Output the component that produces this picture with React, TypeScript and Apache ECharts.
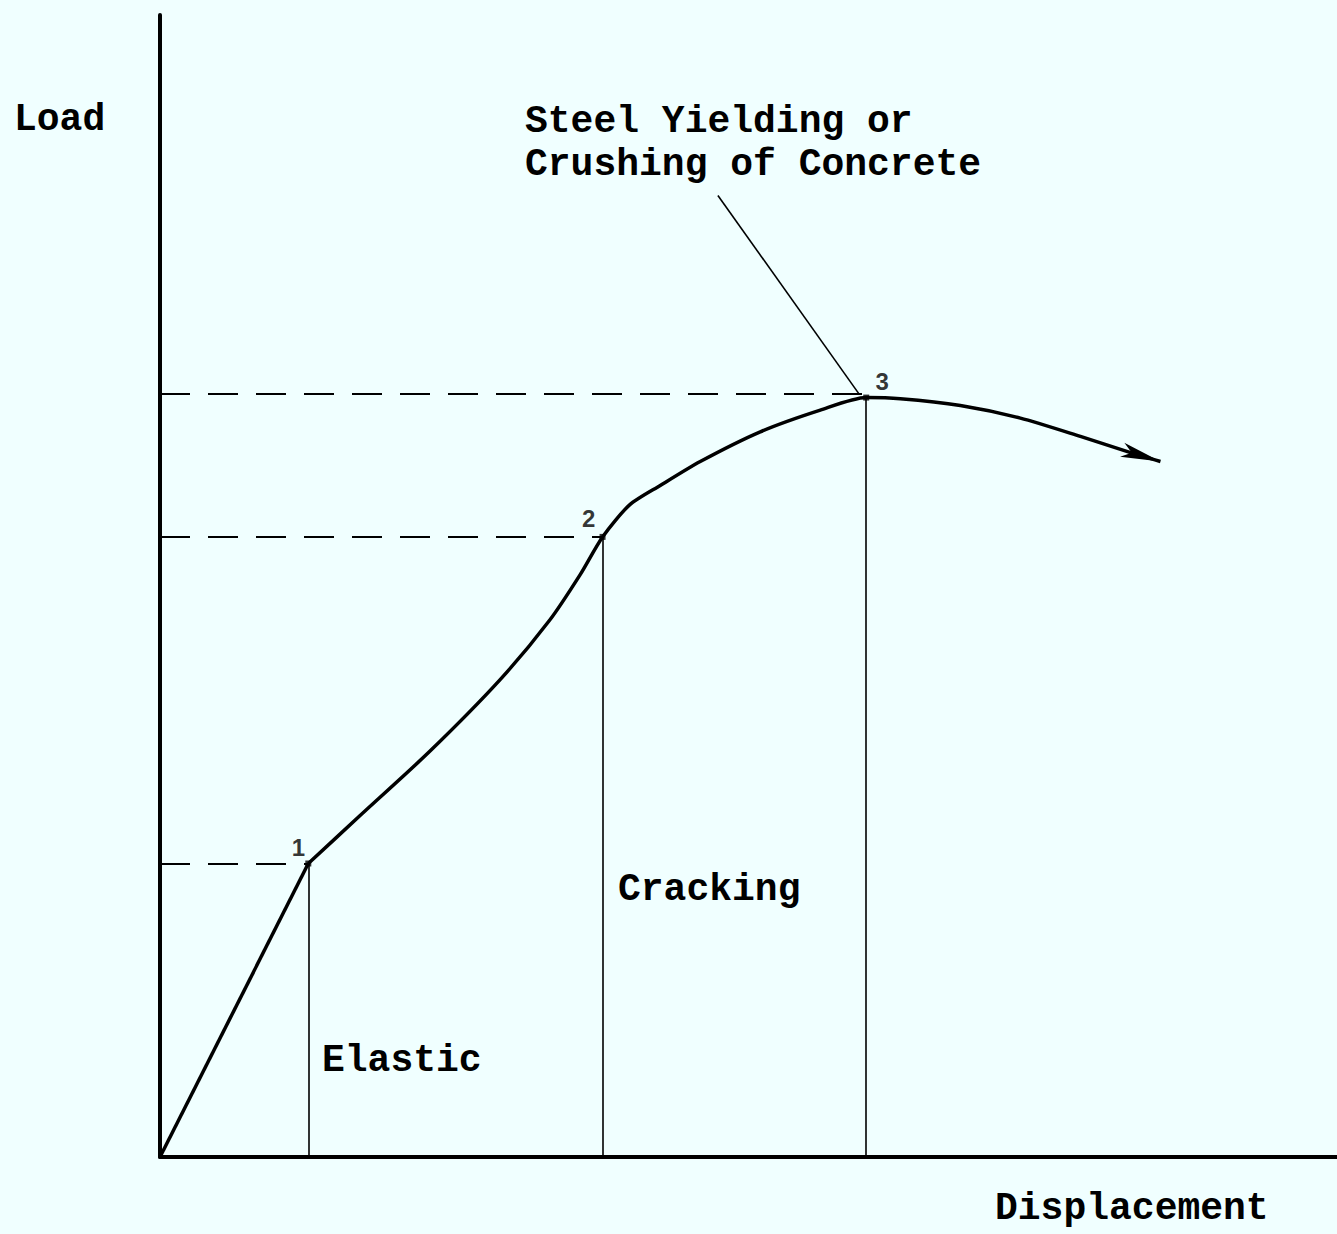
import React, { useEffect, useRef } from "react";
import * as echarts from "echarts";

// Load–displacement curve (abstract units, 0..100 on both axes)
// Elastic (straight) branch
const elasticX = [0, 12.6];
const elasticY = [0, 25.7];
// Post-cracking branch (from point 1 onward)
const curveX = [12.6, 17.0, 22.9, 28.9, 33.1, 35.7, 37.6, 39.9, 42.5, 45.9, 51.0, 56.1, 60.0, 62.9, 68.0, 73.1, 78.2, 82.4, 85.0];
const curveY = [25.7, 29.9, 35.5, 41.8, 47.0, 51.0, 54.3, 57.1, 58.8, 60.9, 63.5, 65.4, 66.5, 66.4, 65.8, 64.7, 63.1, 61.7, 60.9];

// Key points 1, 2, 3
const keyLabels = ["1", "2", "3"];
const keyX = [12.6, 37.6, 60.0];
const keyY = [25.7, 54.3, 66.5];
const dashY = [25.7, 54.3, 66.8];

// Annotation leader start (from text to point 3)
const leaderStart = [47.4, 84.2];

const stageLabels = ["Elastic", "Cracking"];
const yLabel = "Load";
const xLabel = "Displacement";
const noteLines = ["Steel Yielding or", "Crushing of Concrete"];

export default function App() {
  const ref = useRef<HTMLDivElement>(null);
  useEffect(() => {
    document.body.style.margin = "0";
    document.body.style.background = "#f0ffff";
    const chart = echarts.init(ref.current!, null, { renderer: "svg" });
    const font = "bold 38px 'Liberation Mono', 'Courier New', monospace";
    const curveData: any[] = curveX.map((x, i) => [x, curveY[i]]);
    const last = curveData.length - 1;
    curveData[last] = {
      value: curveData[last],
      symbol: "arrow",
      symbolSize: [11, 40],
      symbolRotate: -107,
      itemStyle: { color: "#000" },
    };
    const labelOffsets = [[-10, 4], [-14, 2], [16, 4]];
    const axisCommon = {
      type: "value",
      min: 0,
      max: 100,
      axisLine: { show: true, lineStyle: { color: "#000", width: 4 } },
      axisTick: { show: false },
      axisLabel: { show: false },
      splitLine: { show: false },
    };
    const option: any = {
      animation: false,
      backgroundColor: "#f0ffff",
      grid: { left: 160, right: 0, top: 15, bottom: 77 },
      xAxis: axisCommon,
      yAxis: axisCommon,
      series: [
        {
          type: "line",
          data: elasticX.map((x, i) => [x, elasticY[i]]),
          smooth: false,
          symbol: "none",
          lineStyle: { color: "#000", width: 3.5 },
        },
        {
          type: "line",
          data: curveData,
          smooth: 0.25,
          symbol: "none",
          showSymbol: true,
          lineStyle: { color: "#000", width: 3.5 },
          markLine: {
            silent: true,
            symbol: ["none", "none"],
            label: { show: false },
            data: [
              ...keyX.map((x, i) => [
                { coord: [0, dashY[i]], lineStyle: { type: [30, 18], width: 2, color: "#000" } },
                { coord: [x, dashY[i]] },
              ]),
              ...keyX.map((x, i) => [
                { coord: [x, 0], lineStyle: { type: "solid", width: 1.6, color: "#000" } },
                { coord: [x, keyY[i]] },
              ]),
              [
                { coord: leaderStart, lineStyle: { type: "solid", width: 1.6, color: "#000" } },
                { coord: [keyX[2] - 0.6, keyY[2] + 0.3] },
              ],
            ],
          },
        },
        {
          type: "scatter",
          symbol: "rect",
          symbolSize: 6,
          itemStyle: { color: "#000" },
          data: keyX.map((x, i) => ({
            value: [x, keyY[i]],
            label: {
              show: true,
              formatter: keyLabels[i],
              position: "top",
              offset: labelOffsets[i],
              color: "#000",
              textBorderWidth: 0,
              fontSize: 24,
              fontWeight: "bold",
              fontFamily: "'Liberation Sans', sans-serif",
            },
          })),
        },
      ],
      graphic: [
        { type: "text", left: 14, top: 100, style: { text: yLabel, font, fill: "#000" } },
        { type: "text", left: 525, top: 102, style: { text: noteLines[0], font, fill: "#000" } },
        { type: "text", left: 525, top: 145, style: { text: noteLines[1], font, fill: "#000" } },
        { type: "text", left: 322, top: 1041, style: { text: stageLabels[0], font, fill: "#000" } },
        { type: "text", left: 618, top: 870, style: { text: stageLabels[1], font, fill: "#000" } },
        { type: "text", left: 995, top: 1189, style: { text: xLabel, font, fill: "#000" } },
      ],
    };
    chart.setOption(option);
    return () => chart.dispose();
  }, []);
  return (
    <div
      ref={ref}
      style={{ position: "absolute", left: 0, top: 0, width: 1337, height: 1234 }}
    />
  );
}
